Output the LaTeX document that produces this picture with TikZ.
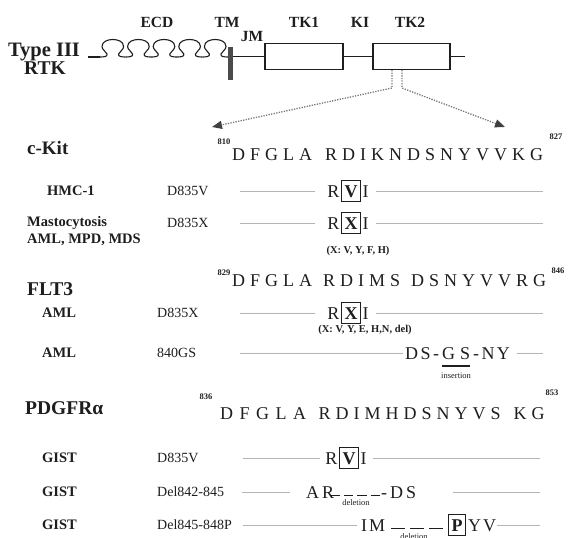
\documentclass[tikz,border=0pt]{standalone}
\usepackage{fontspec}
\setmainfont{Liberation Serif}
\usetikzlibrary{arrows.meta}
\definecolor{ink}{HTML}{1E1E1E}
\definecolor{rowgray}{HTML}{B4B4B4}
\definecolor{dotgray}{HTML}{7A7A7A}
\def\lsp{5pt}
\def\lspc#1{\ifx#1\relax\else#1\kern\lsp\expandafter\lspc\fi}
\begin{document}
\begin{tikzpicture}[x=1pt,y=-1pt,
  every node/.style={inner sep=0pt, text=ink},
  hdrtxt/.style={font=\fontsize{15.5}{17}\selectfont\bfseries},
  rtklbl/.style={font=\fontsize{19.5}{21}\selectfont\bfseries},
  ttllbl/.style={font=\fontsize{19.5}{21}\selectfont\bfseries, anchor=west},
  sublbl/.style={font=\fontsize{14.5}{16}\selectfont\bfseries, anchor=west},
  mutcode/.style={font=\fontsize{14}{16}\selectfont, anchor=west},
  seqtxt/.style={font=\fontsize{18}{20}\selectfont, anchor=base west},
  numlbl/.style={font=\fontsize{8.5}{10}\selectfont\bfseries},
  xlist/.style={font=\fontsize{10.5}{12}\selectfont\bfseries},
  tinylbl/.style={font=\fontsize{8.5}{10}\selectfont},
  aa/.style={font=\fontsize{18}{20}\selectfont, text height=12.5pt, text depth=0pt},
  boxaa/.style={aa, font=\fontsize{18}{20}\selectfont\bfseries, draw=ink, line width=0.8pt, inner xsep=3pt, inner ysep=4.5pt},
  bb/.style={draw=ink, line width=1.1pt},
  rowline/.style={draw=rowgray, line width=0.8pt},
  dotln/.style={draw=dotgray, line width=1.3pt, dash pattern=on 1.3pt off 1.3pt},
  gapdash/.style={draw=ink, line width=1.5pt},
]
\useasboundingbox (0,0) rectangle (569,537);
\fill[white] (0,0) rectangle (569,537);

% ---------------- header: Type III RTK ----------------
\node[rtklbl, font=\fontsize{20.5}{22}\selectfont\bfseries] (type) at (44,52) {Type III};
\node[rtklbl] (rtk) at (45,68) {RTK};
\node[hdrtxt] (ecd) at (157,22) {ECD};
\node[hdrtxt] (tm) at (227,22) {TM};
\node[hdrtxt] (jm) at (252,37) {JM};
\node[hdrtxt] (tk1l) at (304,22) {TK1};
\node[hdrtxt] (kil) at (360,22) {KI};
\node[hdrtxt] (tk2l) at (410,22) {TK2};

\coordinate (b0) at (88,57);
\coordinate (b1) at (100,57);
\draw[bb] (b0) -- (b1);
\foreach \xl in {100,125.6,151.2,176.8,202.4}
  \draw[bb] (\xl,57) to[out=0,in=-70] (\xl+7,54) to[out=110,in=-90] (\xl+2,46.5)
     to[out=90,in=180] (\xl+12.8,39.5) to[out=0,in=90] (\xl+23.6,46.5)
     to[out=-90,in=70] (\xl+18.6,54) to[out=-110,in=180] (\xl+25.6,57);
\node[draw=none, fill=ink!80, minimum width=5pt, minimum height=33pt] (tmb) at (230.5,63.5) {};
\node[draw=ink, line width=1.1pt, minimum width=78pt, minimum height=26pt] (tk1) at (304,56.5) {};
\node[draw=ink, line width=1.1pt, minimum width=77pt, minimum height=26pt] (tk2) at (411.5,56.5) {};
\coordinate (bend) at (465,56.5);
\draw[bb] (tmb.east |- tk1.west) -- (tk1.west);
\draw[bb] (tk1.east) -- (tk2.west);
\draw[bb] (tk2.east) -- (bend);

\coordinate (dl0) at ([xshift=-19.5pt]tk2.south);
\coordinate (dl1) at (392,88);
\coordinate (tipL) at (212,127);
\coordinate (dr0) at ([xshift=-9.5pt]tk2.south);
\coordinate (dr1) at (402,88);
\coordinate (tipR) at (505,127);
\draw[dotln, -{Triangle[length=10pt,width=8pt,color=ink!85]}] (dl0) -- (dl1) -- (tipL);
\draw[dotln, -{Triangle[length=10pt,width=8pt,color=ink!85]}] (dr0) -- (dr1) -- (tipR);

% ---------------- c-Kit ----------------
\node[ttllbl, font=\fontsize{19}{21}\selectfont\bfseries] (ckit) at (27,148) {c-Kit};
\node[numlbl] (n810) at (224,142) {810};
\node[seqtxt] (ckseq) at (232,161) {\lspc DFGLA\relax\kern8pt\lspc RDIKNDSNYVVKG\relax};
\node[numlbl] (n827) at (556,137) {827};

\node[sublbl] (hmc) at (47,191) {HMC-1};
\node[mutcode] (kd835v) at (167,191) {D835V};
\node[boxaa] (k1x) at (351,191) {V};
\node[aa, anchor=east] (k1r) at ([xshift=-1.5pt]k1x.west) {R};
\node[aa, anchor=west] (k1i) at ([xshift=1.5pt]k1x.east) {I};
\coordinate (k1a) at (240,191); \coordinate (k1b) at (315,191);
\coordinate (k1c) at (376,191); \coordinate (k1d) at (543,191);
\draw[rowline] (k1a) -- (k1b);
\draw[rowline] (k1c) -- (k1d);

\node[sublbl] (masto) at (27,223) {Mastocytosis};
\node[sublbl] (amlmpd) at (27,240) {AML, MPD, MDS};
\node[mutcode] (kd835x) at (167,223) {D835X};
\node[boxaa] (k2x) at (351,223) {X};
\node[aa, anchor=east] (k2r) at ([xshift=-1.5pt]k2x.west) {R};
\node[aa, anchor=west] (k2i) at ([xshift=1.5pt]k2x.east) {I};
\coordinate (k2a) at (240,223); \coordinate (k2b) at (315,223);
\coordinate (k2c) at (376,223); \coordinate (k2d) at (543,223);
\draw[rowline] (k2a) -- (k2b);
\draw[rowline] (k2c) -- (k2d);
\node[xlist] (xl1) at (358,251) {(X: V, Y, F, H)};

% ---------------- FLT3 ----------------
\node[ttllbl] (flt3) at (27,289) {FLT3};
\node[numlbl] (n829) at (224,273) {829};
\node[seqtxt] (flseq) at (232,286) {\lspc DFGLA\relax\kern6pt\lspc RDIMS\relax\kern6pt\lspc DSNYVVRG\relax};
\node[numlbl] (n846) at (558,271) {846};

\node[sublbl] (aml1) at (42,313) {AML};
\node[mutcode] (fd835x) at (157,313) {D835X};
\node[boxaa] (f1x) at (351,313) {X};
\node[aa, anchor=east] (f1r) at ([xshift=-1.5pt]f1x.west) {R};
\node[aa, anchor=west] (f1i) at ([xshift=1.5pt]f1x.east) {I};
\coordinate (f1a) at (240,313); \coordinate (f1b) at (315,313);
\coordinate (f1c) at (376,313); \coordinate (f1d) at (543,313);
\draw[rowline] (f1a) -- (f1b);
\draw[rowline] (f1c) -- (f1d);
\node[xlist] (xl2) at (365,330) {(X: V, Y, E, H,N, del)};

\node[sublbl] (aml2) at (42,353) {AML};
\node[mutcode] (gs840) at (157,353) {840GS};
\def\lsp{2.5pt}
\node[aa, anchor=west] (ins1) at (405,353) {\lspc DS-\relax};
\node[aa, anchor=west] (ins2) at (ins1.east) {G\kern5pt S};
\node[aa, anchor=west] (ins3) at ([xshift=2.5pt]ins2.east) {\lspc -NY\relax};
\def\lsp{5pt}
\draw[draw=ink, line width=1.5pt] ([yshift=-6.5pt]ins2.south west) -- ([yshift=-6.5pt]ins2.south east);
\node[tinylbl] (insl) at ([yshift=-16pt]ins2.south) {insertion};
\coordinate (f2a) at (240,353); \coordinate (f2b) at (403,353);
\coordinate (f2c) at (517,353); \coordinate (f2d) at (543,353);
\draw[rowline] (f2a) -- (f2b);
\draw[rowline] (f2c) -- (f2d);

% ---------------- PDGFRalpha ----------------
\node[ttllbl] (pdgfr) at (25,408) {PDGFRα};
\node[numlbl] (n836) at (206,397) {836};
\node[seqtxt] (pdseq) at (220,419) {{\def\lsp{6.5pt}\lspc DFGLA\relax}\kern6pt\lspc RDIMHDSNYVS\relax\kern8pt\lspc KG\relax};
\node[numlbl] (n853) at (552,393) {853};

\node[sublbl] (g1) at (42,458) {GIST};
\node[mutcode] (gd835v) at (157,458) {D835V};
\node[boxaa] (p1x) at (349,458) {V};
\node[aa, anchor=east] (p1r) at ([xshift=-1.5pt]p1x.west) {R};
\node[aa, anchor=west] (p1i) at ([xshift=1.5pt]p1x.east) {I};
\coordinate (p1a) at (243,458); \coordinate (p1b) at (320,458);
\coordinate (p1c) at (373,458); \coordinate (p1d) at (540,458);
\draw[rowline] (p1a) -- (p1b);
\draw[rowline] (p1c) -- (p1d);

\node[sublbl] (g2) at (42,492) {GIST};
\node[mutcode] (del1) at (157,492) {Del842-845};
\node[aa, anchor=west] (ar) at (306,492) {A\kern3pt R};
\coordinate (dsh1a) at (330,495.5); \coordinate (dsh1b) at (380,495.5);
\draw[gapdash, dash pattern=on 9.5pt off 4pt] (dsh1a) -- (dsh1b);
\node[aa, anchor=west] (ds) at (381,492) {-\kern3pt D\kern3pt S};
\node[tinylbl] (dell1) at (356,503) {deletion};
\coordinate (p2a) at (242,492); \coordinate (p2b) at (290,492);
\coordinate (p2c) at (453,492); \coordinate (p2d) at (540,492);
\draw[rowline] (p2a) -- (p2b);
\draw[rowline] (p2c) -- (p2d);

\node[sublbl] (g3) at (42,525) {GIST};
\node[mutcode] (del2) at (157,525) {Del845-848P};
\node[aa, anchor=west] (im) at (361,525) {I\kern2pt M};
\coordinate (dsh2a) at (391,528.5); \coordinate (dsh2b) at (443,528.5);
\draw[gapdash, dash pattern=on 14pt off 5pt] (dsh2a) -- (dsh2b);
\node[boxaa] (p3x) at (457,525) {P};
\node[aa, anchor=west] (yv) at ([xshift=2pt]p3x.east) {Y\kern2pt V};
\node[tinylbl] (dell2) at (414,537) {deletion};
\coordinate (p3a) at (243,525); \coordinate (p3b) at (357,525);
\coordinate (p3c) at (497,525); \coordinate (p3d) at (540,525);
\draw[rowline] (p3a) -- (p3b);
\draw[rowline] (p3c) -- (p3d);
\end{tikzpicture}
\end{document}
